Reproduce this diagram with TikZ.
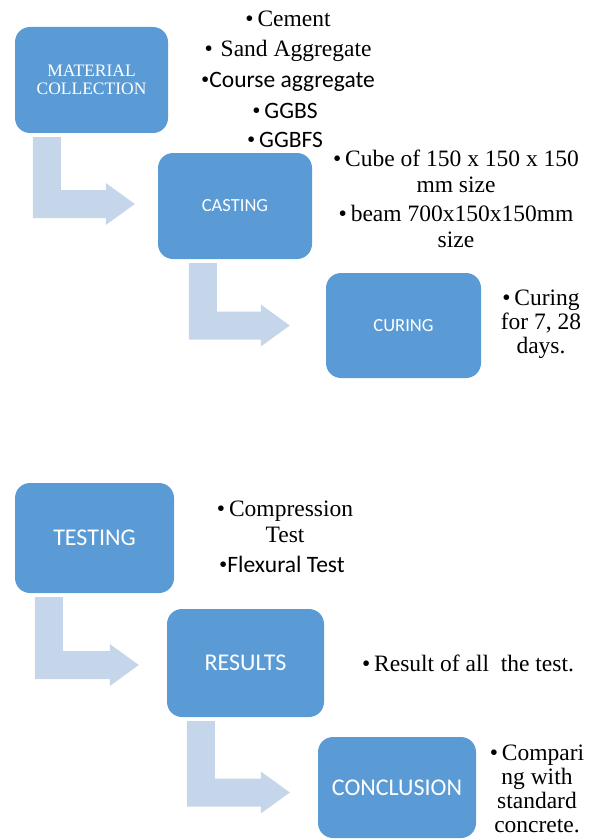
\documentclass[tikz,border=0pt]{standalone}
\usepackage{fontspec}
\usetikzlibrary{calc}
\newfontfamily\serifface{Liberation Serif}
\newfontfamily\calface{Carlito}
\definecolor{stepblue}{RGB}{91,155,213}
\definecolor{flowtint}{RGB}{197,213,234}
\newcommand\dotmark{{\serifface •}}
\tikzset{
  stepbox/.style={draw=none, fill=stepblue, rounded corners=15pt, inner sep=0pt,
    text=white, align=center},
  flowband/.style={fill=flowtint, draw=none},
  notes/.style={anchor=base, inner sep=0pt, align=center,
    font=\serifface\fontsize{23.5}{25.5}\selectfont},
  notes sans/.style={anchor=base, inner sep=0pt, align=center,
    font=\calface\fontsize{23.5}{25.5}\selectfont},
}
% bent arrow: #1 source box, #2 target box, #3 shaft offset from the source's
% left edge, #4 gap between tip and target, #5 vertical shift of the tip
\newcommand\bentarrow[5]{%
  \fill[flowband] let \p1=($(#1.south west)+(#3,4)$), \p2=($(#2.west)+(-#4,#5)$) in
    (\x1,\y1) -- (\x1+28pt,\y1) -- (\x1+28pt,\y2+14pt) -- (\x2-29pt,\y2+14pt)
    -- (\x2-29pt,\y2+21pt) -- (\x2,\y2) -- (\x2-29pt,\y2-21pt)
    -- (\x2-29pt,\y2-14pt) -- (\x1,\y2-14pt) -- cycle;}
\begin{document}
\begin{tikzpicture}[x=1pt, y=-1pt]
\useasboundingbox (0,0) rectangle (595,840);

% process steps
\node[stepbox, minimum width=153pt, minimum height=106pt,
  font=\serifface\fontsize{17.5}{18.5}\selectfont] (mat) at (91.5,80) {MATERIAL\\COLLECTION};
\node[stepbox, minimum width=154pt, minimum height=106pt,
  font=\calface\fontsize{18.5}{22}\selectfont] (cast) at (235,206) {CASTING};
\node[stepbox, minimum width=155pt, minimum height=105pt,
  font=\calface\fontsize{18.5}{22}\selectfont] (cur) at (403.5,325.5) {CURING};
\node[stepbox, minimum width=159pt, minimum height=110pt,
  font=\calface\fontsize{24}{28}\selectfont] (test) at (94.5,538) {TESTING};
\node[stepbox, minimum width=157pt, minimum height=108pt,
  font=\calface\fontsize{24}{28}\selectfont] (res) at (245.5,663) {RESULTS};
\node[stepbox, minimum width=158pt, minimum height=101pt,
  font=\calface\fontsize{24}{28}\selectfont] (conc) at (397,787.5) {CONCLUSION};

% flow between the steps
\bentarrow{mat}{cast}{18}{23}{-2}
\bentarrow{cast}{cur}{31}{36}{0}
\bentarrow{test}{res}{20}{28}{2}
\bentarrow{res}{conc}{20}{28}{5}

% materials (multi-line notes are placed by the baseline of their last line)
\node[notes] (cement) at (288,27) {•\,Cement};
\node[notes] (sand) at (288,57) {•\hspace{8pt}Sand Aggregate};
\node[notes sans] (course) at (288,88) {\dotmark Course aggregate};
\node[notes sans] (ggbs) at (285,118) {\dotmark\,GGBS};
\node[notes sans] (ggbfs) at (285,147) {\dotmark\,GGBFS};

% specimens
\node[notes] (cube) at (456,192) {•\,Cube of 150 x 150 x 150\\mm size};
\node[notes] (beam) at (456,247) {•\,beam 700x150x150mm\\size};

% curing period
\node[notes, font=\serifface\fontsize{23.5}{24}\selectfont] (period) at (541,353) {•\,Curing\\for 7, 28\\days.};

% tests
\node[notes] (compr) at (285,542) {•\,Compression\\Test};
\node[notes sans] (flex) at (282,572) {\dotmark Flexural Test};

% outcome
\node[notes] (outcome) at (468,671) {•\,Result of all\ \ the test.};
\node[notes, font=\serifface\fontsize{23.5}{24}\selectfont] (compare) at (537,832) {•\,Compari\\ng with\\standard\\concrete.};
\end{tikzpicture}
\end{document}
